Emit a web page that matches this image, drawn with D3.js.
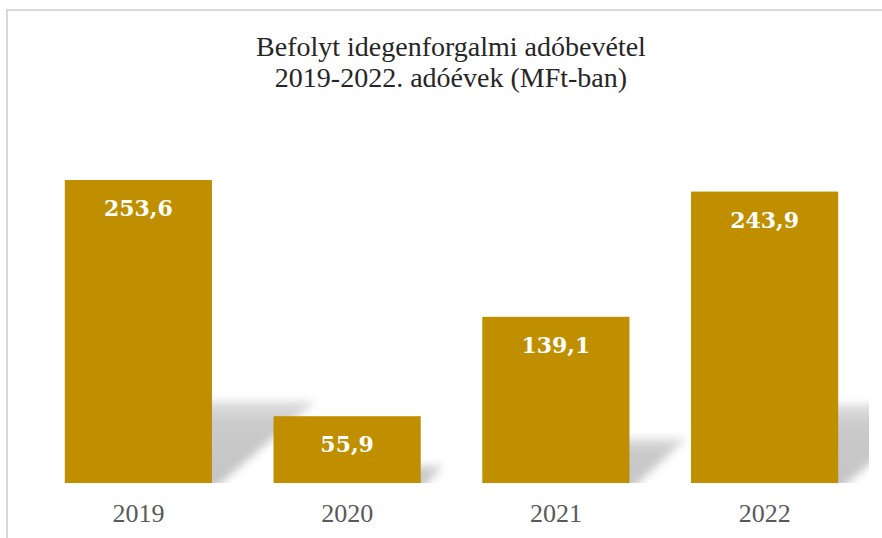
<!DOCTYPE html>
<html>
<head>
<meta charset="utf-8">
<script src="https://cdn.jsdelivr.net/npm/d3@7"></script>
<style>
  body { margin: 0; background: #fff; }
</style>
</head>
<body>
<div class="chart"></div>
<script>
/* chart data */
const years = ["2019", "2020", "2021", "2022"];
const values = [253.6, 55.9, 139.1, 243.9];
const titleLines = ["Befolyt idegenforgalmi adóbevétel", "2019-2022. adóévek (MFt-ban)"];

/* initialize SVG */
const width = 882;
const height = 538;
const svg = d3.select(".chart").append("svg")
  .attr("width", width)
  .attr("height", height)
  .attr("viewBox", [0, 0, width, height]);

/* chart frame (only top and left edges are in view) */
svg.append("path")
  .attr("d", `M7,${height} V10 H${width}`)
  .attr("fill", "none")
  .attr("stroke", "#d9d9d9")
  .attr("stroke-width", 2);

/* scales */
const x = d3.scaleBand()
  .domain(years)
  .range([34, 869])
  .paddingInner(0.295)
  .paddingOuter(0.1475);

const y = d3.scaleLinear()
  .domain([0, 253.6])
  .range([483, 180]);

/* shadow defs: blur + fade upward */
const defs = svg.append("defs");
defs.append("filter")
  .attr("id", "soft")
  .attr("x", "-30%").attr("y", "-30%")
  .attr("width", "160%").attr("height", "160%")
  .append("feGaussianBlur")
  .attr("stdDeviation", 4.5);

const grad = defs.append("linearGradient")
  .attr("id", "fade")
  .attr("x1", 0).attr("y1", 1).attr("x2", 0).attr("y2", 0);
grad.append("stop").attr("offset", "0%").attr("stop-color", "#c4c4c4");
grad.append("stop").attr("offset", "75%").attr("stop-color", "#cacaca");
grad.append("stop").attr("offset", "100%").attr("stop-color", "#e0e0e0");

defs.append("clipPath")
  .attr("id", "plot")
  .append("rect")
  .attr("x", x.range()[0])
  .attr("y", 0)
  .attr("width", x.range()[1] - x.range()[0])
  .attr("height", y(0));

/* perspective shadows cast up and to the right */
const data = years.map((d, i) => ({ year: d, value: values[i] }));

svg.append("g")
  .attr("clip-path", "url(#plot)")
  .append("g")
  .attr("filter", "url(#soft)")
  .selectAll("path")
  .data(data)
  .join("path")
  .attr("fill", "url(#fade)")
  .attr("d", d => {
    const x0 = x(d.year), x1 = x0 + x.bandwidth();
    const base = y(0);
    const h = (base - y(d.value)) * 0.27;
    const dx = h * 1.27;
    return `M${x0},${base + 8} L${x1},${base + 8} L${x1 + dx},${base - h} L${x0 + dx},${base - h} Z`;
  });

/* bars */
svg.append("g")
  .selectAll("rect")
  .data(data)
  .join("rect")
  .attr("x", d => x(d.year))
  .attr("y", d => y(d.value))
  .attr("width", x.bandwidth())
  .attr("height", d => y(0) - y(d.value))
  .attr("fill", "#bf8f00");

/* value labels inside bar tops */
svg.append("g")
  .selectAll("text")
  .data(data)
  .join("text")
  .attr("x", d => x(d.year) + x.bandwidth() / 2)
  .attr("y", d => y(d.value) + 36)
  .attr("text-anchor", "middle")
  .attr("font-family", "DejaVu Serif")
  .attr("font-weight", "bold")
  .attr("font-size", 22)
  .attr("fill", "#ffffff")
  .text(d => d3.format(".1f")(d.value).replace(".", ","));

/* category axis */
const xAxis = svg.append("g")
  .attr("transform", `translate(0,${y(0)})`)
  .call(d3.axisBottom(x).tickSize(0).tickPadding(39));
xAxis.select(".domain").remove();
xAxis.selectAll("text")
  .attr("dy", 0)
  .attr("font-family", "Liberation Serif")
  .attr("font-size", 26)
  .attr("fill", "#595959");

/* title */
svg.append("text")
  .attr("text-anchor", "middle")
  .attr("font-family", "Liberation Serif")
  .attr("font-size", 28)
  .attr("fill", "#262626")
  .selectAll("tspan")
  .data(titleLines)
  .join("tspan")
  .attr("x", 451)
  .attr("y", (d, i) => 56 + i * 31)
  .text(d => d);
</script>
</body>
</html>
